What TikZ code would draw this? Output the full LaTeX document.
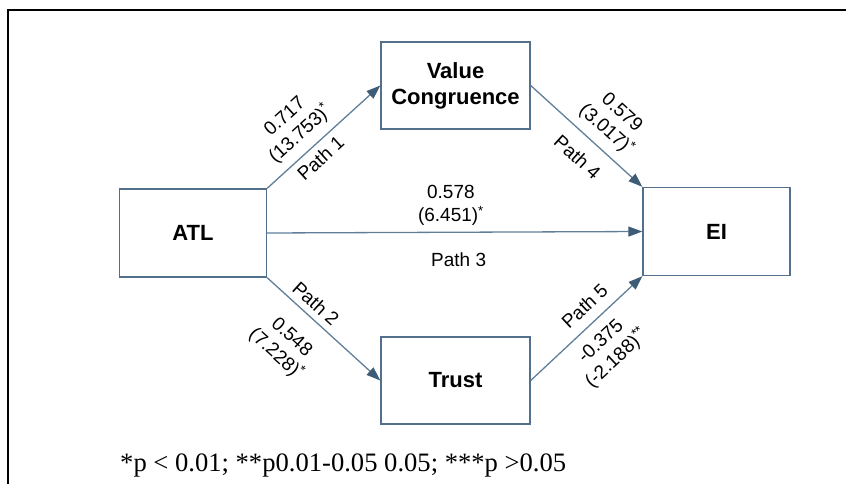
\documentclass[tikz,border=0pt]{standalone}
\usepackage{fontspec}
\setmainfont{Liberation Sans}
\newfontfamily\notefont{Liberation Serif}
\usepackage{tikz}
\usetikzlibrary{arrows.meta,positioning}
\definecolor{boxline}{RGB}{82,112,140}
\definecolor{arrowline}{RGB}{96,126,152}
\definecolor{arrowhead}{RGB}{62,92,118}

\begin{document}
\begin{tikzpicture}[x=1pt,y=-1pt,
	construct/.style={draw=boxline,line width=1.4pt,minimum width=147pt,minimum height=88pt,align=center,inner sep=0pt,font=\fontsize{22}{26}\selectfont\bfseries},
	patharrow/.style={draw=arrowline,line width=1.3pt,-{Triangle[length=14pt,width=10pt,color=arrowhead]}},
	coef/.style={font=\fontsize{19}{23}\selectfont,align=center,inner sep=0pt,sloped},
	pathname/.style={font=\fontsize{19}{23}\selectfont,inner sep=0pt,sloped}]
	\useasboundingbox (0,0) rectangle (846,484);
	\clip (0,0) rectangle (846,484);
	\draw[line width=2pt] (8,500) -- (8,10) -- (860,10);
	\node[construct] (atl) at (193,233) {ATL};
	\node[construct] (ei) at (716.5,231.5) {EI};
	\node[construct,minimum width=149pt,minimum height=87pt] (value) at (455.5,85.5) {Value\\Congruence};
	\node[construct,minimum width=149pt,minimum height=87pt] (trust) at (455.5,380.5) {Trust};
	\draw[patharrow] (atl.north east) -- (value.west)
		node[coef,pos=0.40,above=8pt] {0.717\\(13.753)\textsuperscript{*}}
		node[pathname,pos=0.39,below=6pt] {Path 1};
	\draw[patharrow] (value.east) -- (ei.north west)
		node[coef,pos=0.57,above=8pt] {0.579\\(3.017)\textsuperscript{*}}
		node[pathname,pos=0.55,below=14pt] {Path 4};
	\draw[patharrow] (atl.east) -- (ei.west)
		node[coef,pos=0.49,above=6pt] {0.578\\(6.451)\textsuperscript{*}}
		node[pathname,pos=0.51,below=20pt] {Path 3};
	\draw[patharrow] (atl.south east) -- (trust.west)
		node[pathname,pos=0.35,above=6pt] {Path 2}
		node[coef,pos=0.38,below=19pt] {0.548\\(7.228)\textsuperscript{*}};
	\draw[patharrow] (trust.east) -- (ei.south west)
		node[pathname,pos=0.59,above=10pt] {Path 5}
		node[coef,pos=0.51,below=11pt] {-0.375\\(-2.188)\textsuperscript{**}};
	\node[anchor=west,inner sep=0pt,font=\notefont\fontsize{26.6}{30}\selectfont] (note) at (120,465) {*p < 0.01; **p0.01-0.05 0.05; ***p >0.05};
\end{tikzpicture}
\end{document}
